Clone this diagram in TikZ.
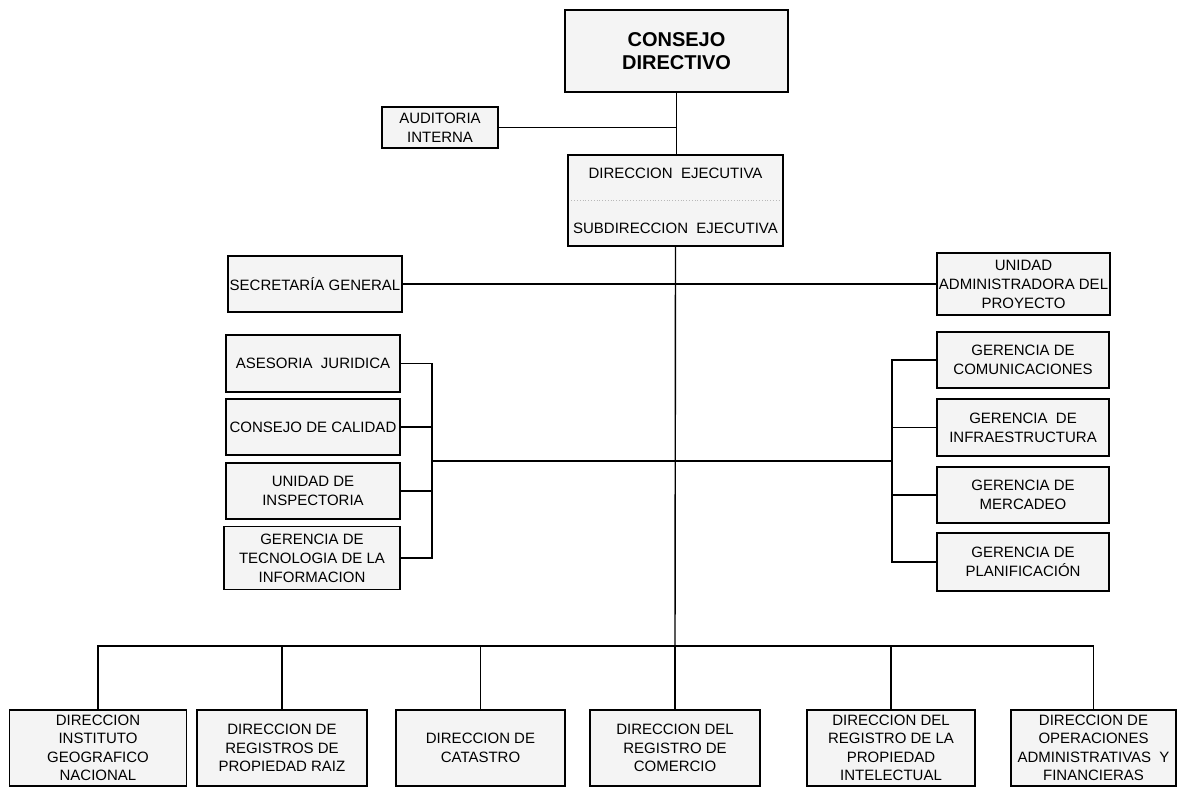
\documentclass[tikz,border=0pt]{standalone}
\usepackage{fontspec}
\setmainfont{Liberation Sans}
\begin{document}
\begin{tikzpicture}[x=1pt,y=-1pt,
        box/.style={draw,line width=1.3pt,fill=gray!9,align=center,inner sep=1pt,
            font=\fontsize{15}{19}\selectfont},
        unit/.style={box,minimum width=174pt,minimum height=56pt},
        dir/.style={box,minimum height=76pt,font=\fontsize{15}{18.5}\selectfont},
        link/.style={line width=1.4pt}]
\useasboundingbox (0,0) rectangle (1177,787);

\node[box,minimum width=223pt,minimum height=82pt,font=\bfseries\fontsize{20}{23}\selectfont]
    (cd) at (676.5,51) {CONSEJO\\DIRECTIVO};
\node[box,minimum width=116pt,minimum height=41pt] (ai) at (440,127.5) {AUDITORIA\\INTERNA};
\node[box,minimum width=215pt,minimum height=91pt] (de) at (675.5,200.5)
    {DIRECCION\ \ EJECUTIVA\\[36pt]SUBDIRECCION\ \ EJECUTIVA};
\draw[gray!55,dotted,line width=0.8pt,shorten <=4pt,shorten >=4pt] (de.west) -- (de.east);

\node[unit] (sg) at (315,284) {SECRETARÍA GENERAL};
\node[unit,minimum width=173pt,minimum height=62pt] (uap) at (1023.5,284)
    {UNIDAD\\ADMINISTRADORA DEL\\PROYECTO};

\node[unit,minimum height=57pt] (aj) at (313,363.5) {ASESORIA\ \ JURIDICA};
\node[unit] (cc) at (313,427) {CONSEJO DE CALIDAD};
\node[unit] (ui) at (313,491) {UNIDAD DE\\INSPECTORIA};
\node[unit,minimum width=176pt,minimum height=63pt] (gt) at (312,558)
    {GERENCIA DE\\TECNOLOGIA DE LA\\INFORMACION};

\node[unit,minimum width=172pt] (gc) at (1023,360) {GERENCIA DE\\COMUNICACIONES};
\node[unit,minimum width=172pt,minimum height=57pt] (gi) at (1023,427.5)
    {GERENCIA\ \ DE\\INFRAESTRUCTURA};
\node[unit,minimum width=172pt] (gm) at (1023,495) {GERENCIA DE\\MERCADEO};
\node[unit,minimum width=172pt,minimum height=58pt] (gp) at (1023,562) {GERENCIA DE\\PLANIFICACIÓN};

\node[dir,minimum width=177pt] (b1) at (98,748) {DIRECCION\\INSTITUTO\\GEOGRAFICO\\NACIONAL};
\node[dir,minimum width=170pt] (b2) at (282,748) {DIRECCION DE\\REGISTROS DE\\PROPIEDAD RAIZ};
\node[dir,minimum width=169pt] (b3) at (480.5,748) {DIRECCION DE\\CATASTRO};
\node[dir,minimum width=170pt] (b4) at (675,748) {DIRECCION DEL\\REGISTRO DE\\COMERCIO};
\node[dir,minimum width=168pt] (b5) at (891,748)
    {DIRECCION DEL\\REGISTRO DE LA\\PROPIEDAD\\INTELECTUAL};
\node[dir,minimum width=165pt] (b6) at (1093.5,748)
    {DIRECCION DE\\OPERACIONES\\ADMINISTRATIVAS\ \ Y\\FINANCIERAS};

\coordinate (lb) at (432,461);
\coordinate (rb) at (892,461);
\coordinate (bus) at (675,646);

\draw[link] (cd.south) -- (cd.south |- de.north);
\draw[link] (ai.east) -- (ai.east -| cd.south);
\draw[link] (de.south) -- (bus);
\draw[link] (sg.east) -- (uap.west);
\draw[link] (lb) -- (rb);

\draw[link] (aj.east) -- (aj.east -| lb) -- (gt.east -| lb) -- (gt.east);
\foreach \n in {cc,ui}
    \draw[link] (\n.east) -- (\n.east -| lb);
\draw[link] (gc.west) -- (gc.west -| rb) -- (gp.west -| rb) -- (gp.west);
\foreach \n in {gi,gm}
    \draw[link] (\n.west) -- (\n.west -| rb);

\draw[link] (b1.north) |- (bus) -| (b6.north);
\foreach \n in {b2,b3,b4,b5}
    \draw[link] (\n.north) -- (\n.north |- bus);
\end{tikzpicture}
\end{document}
